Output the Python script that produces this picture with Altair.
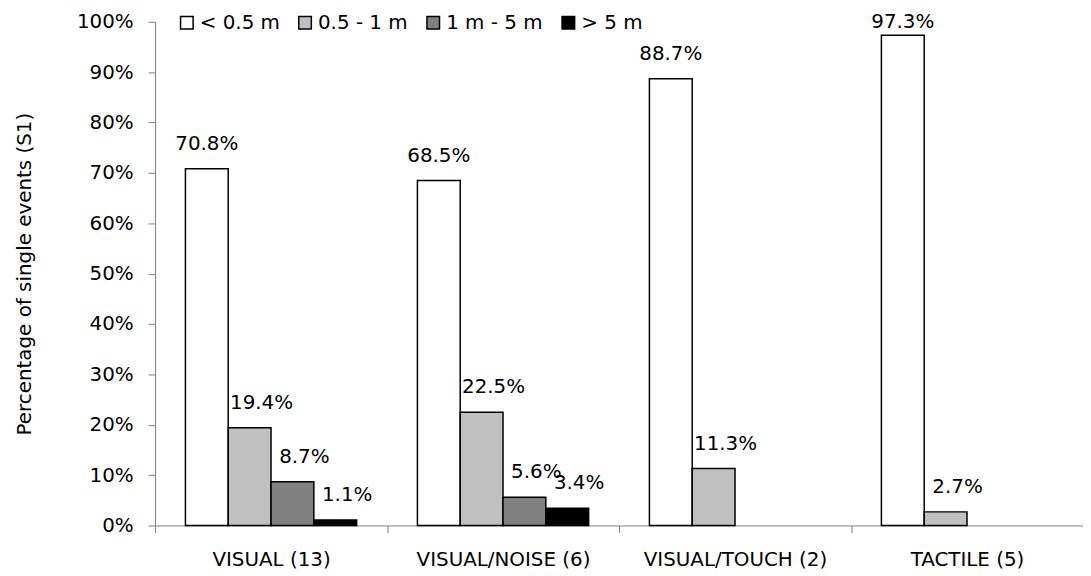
import altair as alt
import pandas as pd

categories = ["VISUAL (13)", "VISUAL/NOISE (6)", "VISUAL/TOUCH (2)", "TACTILE (5)"]
series = ["< 0.5 m", "0.5 - 1 m", "1 m - 5 m", "> 5 m"]
colors = ["#FFFFFF", "#C0C0C0", "#808080", "#000000"]
vals_lt05 = [70.8, 68.5, 88.7, 97.3]
vals_05_1 = [19.4, 22.5, 11.3, 2.7]
vals_1_5 = [8.7, 5.6, None, None]
vals_gt5 = [1.1, 3.4, None, None]
y_ticks = list(range(0, 101, 10))

rows = []
for s, vals in zip(series, [vals_lt05, vals_05_1, vals_1_5, vals_gt5]):
    for c, v in zip(categories, vals):
        if v is not None:
            rows.append({"category": c, "series": s, "value": v, "label": f"{v:.1f}%"})
df = pd.DataFrame(rows)

FONT = "DejaVu Sans"
FS = 20
AXIS_GREY = "#808080"

x_enc = alt.X(
    "category:N",
    sort=categories,
    scale=alt.Scale(domain=categories, paddingInner=0, paddingOuter=0),
    axis=alt.Axis(
        title=None, tickBand="extent", labelAngle=0, tickSize=7,
        labelPadding=17, labelLimit=400, labelFontSize=FS, labelFont=FONT,
        labelColor="black", domainColor=AXIS_GREY, tickColor=AXIS_GREY,
        grid=False,
    ),
)
xoff_enc = alt.XOffset(
    "series:N",
    scale=alt.Scale(domain=series, paddingInner=0, paddingOuter=0.71),
)
y_axis = alt.Axis(
    values=y_ticks, labelExpr="datum.value + '%'",
    title="Percentage of single events (S1)", titleFontSize=FS,
    titleFont=FONT, titleFontWeight="normal", titleColor="black",
    titlePadding=42, tickSize=7, labelPadding=15, labelFontSize=FS,
    labelFont=FONT, labelColor="black", domainColor=AXIS_GREY,
    tickColor=AXIS_GREY, grid=False,
)

bars = alt.Chart(df).mark_bar(stroke="black", strokeWidth=1.5).encode(
    x=x_enc,
    xOffset=xoff_enc,
    y=alt.Y("value:Q", scale=alt.Scale(domain=[0, 100]), axis=y_axis),
    color=alt.Color(
        "series:N",
        scale=alt.Scale(domain=series, range=colors),
        legend=alt.Legend(
            orient="none", legendX=22, legendY=-9, direction="horizontal",
            title=None, symbolType="square", symbolSize=160,
            symbolStrokeColor="black", symbolStrokeWidth=1.5,
            labelFontSize=FS, labelFont=FONT, labelColor="black",
            columnPadding=15, labelOffset=3,
        ),
    ),
)

label_base = alt.Chart(df).transform_calculate(
    label_y="min(datum.value, 95)"
).encode(
    x=alt.X("category:N", sort=categories),
    xOffset=alt.XOffset("series:N"),
    y=alt.Y("label_y:Q"),
    text="label:N",
)

labels_first = label_base.transform_filter(
    alt.datum.series == series[0]
).mark_text(baseline="alphabetic", dy=-19, fontSize=FS, font=FONT, color="black")

labels_rest = label_base.transform_filter(
    alt.datum.series != series[0]
).mark_text(baseline="alphabetic", dx=12, dy=-19, fontSize=FS, font=FONT, color="black")

chart = (bars + labels_first + labels_rest).properties(
    width=934, height=507,
    autosize=alt.AutoSizeParams(type="none"),
    padding={"left": 148, "top": 12, "right": 0, "bottom": 48},
).configure_view(stroke=None)

chart.save("out.html", embed_options={"renderer": "svg", "actions": False})
